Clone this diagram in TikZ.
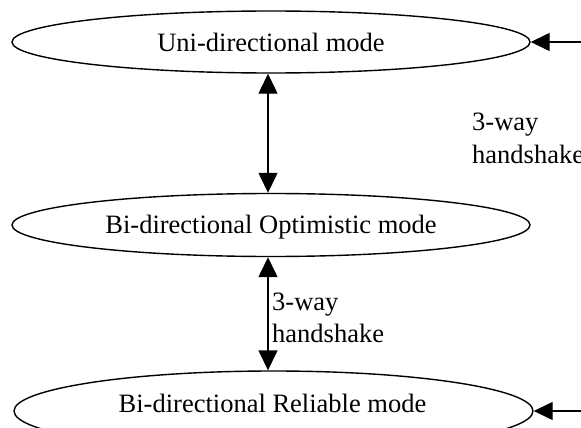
\documentclass[tikz,border=0pt]{standalone}
\usepackage{fontspec}
\setmainfont{Liberation Serif}
\usetikzlibrary{arrows.meta,shapes.geometric}
\begin{document}
\begin{tikzpicture}[x=1pt,y=-1pt,
  modebox/.style={draw,line width=1.4pt,ellipse,inner sep=0pt},
  lbl/.style={font=\fontsize{26.5}{32}\selectfont,inner sep=0pt},
  conn/.style={line width=1.4pt,{Triangle[length=20pt,width=19pt]}-{Triangle[length=20pt,width=19pt]}},
  inarrow/.style={line width=1.4pt,-{Triangle[length=19pt,width=18pt]}}]
\useasboundingbox (0,0) rectangle (581,428);
\clip (0,0) rectangle (581,428);
\node[modebox,minimum width=518pt,minimum height=62pt] (uni) at (271,42) {};
\node[modebox,minimum width=518pt,minimum height=63pt] (opt) at (271,225) {};
\node[modebox,minimum width=519pt,minimum height=80pt] (rel) at (273.5,411) {};
\node[lbl,anchor=base] (tuni) at (271,52) {Uni-directional mode};
\node[lbl,anchor=base] (topt) at (271,233) {Bi-directional Optimistic mode};
\node[lbl,anchor=base] (trel) at (272.5,412) {Bi-directional Reliable mode};
\coordinate (ein1) at (585,42);
\coordinate (ein2) at (585,411);
\draw[inarrow] (ein1) -- (uni.east);
\draw[inarrow] (ein2) -- (rel.east);
\draw[conn] (uni.south -| 268,0) -- (opt.north -| 268,0);
\draw[conn] (opt.south -| 268,0) -- (rel.north -| 268,0);
\node[lbl,anchor=base west] (h1a) at (472,130) {3-way};
\node[lbl,anchor=base west] (h1b) at (472,163) {handshake};
\node[lbl,anchor=base west] (h2a) at (272,310) {3-way};
\node[lbl,anchor=base west] (h2b) at (272,342) {handshake};
\end{tikzpicture}
\end{document}
